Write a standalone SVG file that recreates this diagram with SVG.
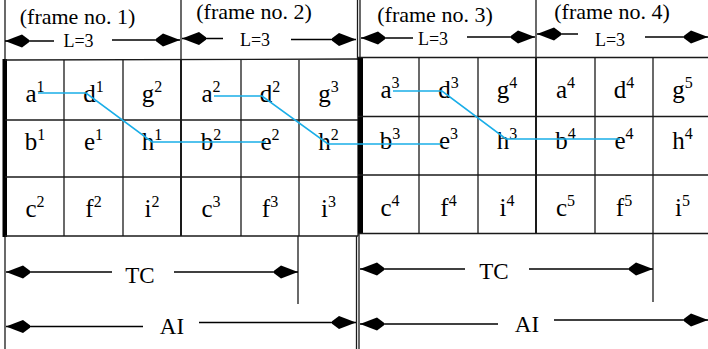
<svg xmlns="http://www.w3.org/2000/svg" width="708" height="349" viewBox="0 0 708 349">
<defs>
<style>
.g{stroke:#1a1a1a;stroke-width:1.3;fill:none}
.gt{stroke:#1a1a1a;stroke-width:2;fill:none}
.ar{stroke:#000;stroke-width:1.3;fill:none;marker-end:url(#ah)}
.t{font-family:"Liberation Serif","Times New Roman",serif;fill:#000;text-anchor:middle}
.cell{font-size:25px}
.sup{font-size:16px}
.title{font-size:22px}
.len{font-size:18px}
.big{font-size:23px}
.blue{stroke:#1aaee8;stroke-width:1.6;fill:none}
</style>
<marker id="ah" markerUnits="userSpaceOnUse" markerWidth="28" markerHeight="16" viewBox="-26 -8 28 16" refX="0" refY="0" orient="auto">
<path d="M0,0 L-17,-6.5 L-24,-1.2 L-24,1.2 L-17,6.5 Z" fill="#000"/>
</marker>
</defs>
<rect width="708" height="349" fill="#fff"/>

<g id="frame-boundaries" class="g">
<line x1="5" y1="0" x2="5" y2="60"/>
<line x1="181" y1="0" x2="181" y2="60"/>
<line x1="357.5" y1="0" x2="357.5" y2="60"/>
<line x1="360" y1="0" x2="360" y2="58"/>
<line x1="536" y1="0" x2="536" y2="58"/>
<line x1="5" y1="236" x2="5" y2="349"/>
<line x1="298" y1="236" x2="298" y2="304"/>
<line x1="356.5" y1="236" x2="356.5" y2="349"/>
<line x1="359" y1="233" x2="359" y2="349"/>
<line x1="653" y1="233" x2="653" y2="302"/>
</g>

<g id="grid-left">
<rect x="2.5" y="59" width="4.5" height="178" fill="#000"/>
<g class="g">
<line x1="5" y1="60" x2="358" y2="59"/>
<line x1="5" y1="120" x2="358" y2="120"/>
<line x1="5" y1="177" x2="358" y2="177"/>
<line x1="5" y1="236" x2="358" y2="236"/>
<line x1="64" y1="60" x2="64" y2="236"/>
<line x1="123" y1="60" x2="123" y2="236"/>
<line x1="241" y1="60" x2="241" y2="236"/>
<line x1="299" y1="60" x2="299" y2="236"/>
<line x1="358" y1="59" x2="358" y2="236"/>
</g>
<line class="gt" x1="181" y1="60" x2="181" y2="236"/>
</g>

<g id="grid-right">
<rect x="358" y="57" width="5" height="177" fill="#000"/>
<g class="g">
<line x1="358" y1="57.5" x2="708" y2="57.5"/>
<line x1="358" y1="116.5" x2="708" y2="116.5"/>
<line x1="358" y1="175" x2="708" y2="175"/>
<line x1="358" y1="233.5" x2="708" y2="233.5"/>
<line x1="419" y1="57.5" x2="419" y2="233.5"/>
<line x1="478" y1="57.5" x2="478" y2="233.5"/>
<line x1="595" y1="57.5" x2="595" y2="233.5"/>
<line x1="653" y1="57.5" x2="653" y2="233.5"/>
</g>
<line class="gt" x1="536" y1="57.5" x2="536" y2="233.5"/>
</g>

<g id="titles" class="t title">
<text x="77.5" y="23.5">(frame no. 1)</text>
<text x="254" y="19">(frame no. 2)</text>
<text x="435" y="21.5">(frame no. 3)</text>
<text x="612" y="19">(frame no. 4)</text>
</g>

<g id="length-labels" class="t len">
<text x="78.5" y="46.5">L=3</text>
<text x="255" y="46">L=3</text>
<text x="433" y="45">L=3</text>
<text x="610" y="46">L=3</text>
</g>

<g id="cells-frame1" class="t cell">
<text x="35" y="102">a<tspan class="sup" dy="-10">1</tspan></text>
<text x="93.5" y="102">d<tspan class="sup" dy="-10">1</tspan></text>
<text x="152" y="102">g<tspan class="sup" dy="-10">2</tspan></text>
<text x="35" y="150">b<tspan class="sup" dy="-10">1</tspan></text>
<text x="93.5" y="150">e<tspan class="sup" dy="-10">1</tspan></text>
<text x="152" y="150">h<tspan class="sup" dy="-10">1</tspan></text>
<text x="35" y="217">c<tspan class="sup" dy="-10">2</tspan></text>
<text x="93.5" y="217">f<tspan class="sup" dy="-10">2</tspan></text>
<text x="152" y="217">i<tspan class="sup" dy="-10">2</tspan></text>
</g>
<g id="cells-frame2" class="t cell">
<text x="211" y="102">a<tspan class="sup" dy="-10">2</tspan></text>
<text x="270" y="102">d<tspan class="sup" dy="-10">2</tspan></text>
<text x="328.5" y="102">g<tspan class="sup" dy="-10">3</tspan></text>
<text x="211" y="150">b<tspan class="sup" dy="-10">2</tspan></text>
<text x="270" y="150">e<tspan class="sup" dy="-10">2</tspan></text>
<text x="328.5" y="150">h<tspan class="sup" dy="-10">2</tspan></text>
<text x="211" y="217">c<tspan class="sup" dy="-10">3</tspan></text>
<text x="270" y="217">f<tspan class="sup" dy="-10">3</tspan></text>
<text x="328.5" y="217">i<tspan class="sup" dy="-10">3</tspan></text>
</g>
<g id="cells-frame3" class="t cell">
<text x="390" y="98">a<tspan class="sup" dy="-10">3</tspan></text>
<text x="448.5" y="98">d<tspan class="sup" dy="-10">3</tspan></text>
<text x="507" y="98">g<tspan class="sup" dy="-10">4</tspan></text>
<text x="390" y="149">b<tspan class="sup" dy="-10">3</tspan></text>
<text x="448.5" y="149">e<tspan class="sup" dy="-10">3</tspan></text>
<text x="507" y="149">h<tspan class="sup" dy="-10">3</tspan></text>
<text x="390" y="216">c<tspan class="sup" dy="-10">4</tspan></text>
<text x="448.5" y="216">f<tspan class="sup" dy="-10">4</tspan></text>
<text x="507" y="216">i<tspan class="sup" dy="-10">4</tspan></text>
</g>
<g id="cells-frame4" class="t cell">
<text x="565.5" y="98">a<tspan class="sup" dy="-10">4</tspan></text>
<text x="624" y="98">d<tspan class="sup" dy="-10">4</tspan></text>
<text x="682.5" y="98">g<tspan class="sup" dy="-10">5</tspan></text>
<text x="565.5" y="149">b<tspan class="sup" dy="-10">4</tspan></text>
<text x="624" y="149">e<tspan class="sup" dy="-10">4</tspan></text>
<text x="682.5" y="149">h<tspan class="sup" dy="-10">4</tspan></text>
<text x="565.5" y="216">c<tspan class="sup" dy="-10">5</tspan></text>
<text x="624" y="216">f<tspan class="sup" dy="-10">5</tspan></text>
<text x="682.5" y="216">i<tspan class="sup" dy="-10">5</tspan></text>
</g>

<g id="span-labels" class="t big">
<text x="140" y="283">TC</text>
<text x="172" y="334">AI</text>
<text x="494" y="279">TC</text>
<text x="527" y="332">AI</text>
</g>

<g id="connectors">
<g id="dimension-arrows">
<line class="ar" x1="54" y1="41" x2="5" y2="41"/>
<line class="ar" x1="112" y1="40" x2="180" y2="40"/>
<line class="ar" x1="223" y1="38.5" x2="182" y2="38.5"/>
<line class="ar" x1="291" y1="39.5" x2="356" y2="39.5"/>
<line class="ar" x1="413" y1="38" x2="361" y2="38"/>
<line class="ar" x1="467" y1="37" x2="535" y2="37"/>
<line class="ar" x1="578" y1="34" x2="537" y2="34"/>
<line class="ar" x1="645" y1="37" x2="708" y2="37"/>
<line class="ar" x1="112" y1="272" x2="6" y2="272"/>
<line class="ar" x1="174" y1="272" x2="298" y2="272"/>
<line class="ar" x1="143" y1="326.5" x2="6" y2="326.5"/>
<line class="ar" x1="199" y1="322.5" x2="356" y2="322.5"/>
<line class="ar" x1="465" y1="269" x2="360" y2="269"/>
<line class="ar" x1="529" y1="269" x2="653" y2="269"/>
<line class="ar" x1="498" y1="324" x2="360" y2="324"/>
<line class="ar" x1="554" y1="320" x2="708" y2="320"/>
</g>
<g id="sequence-paths">
<polyline class="blue" points="38,93 86,93 152,142 266,142"/>
<polyline class="blue" points="214,96 262,96 328,144 442,144"/>
<polyline class="blue" points="393,91 442,91 506,139 620,139"/>
</g>
</g>
</svg>
